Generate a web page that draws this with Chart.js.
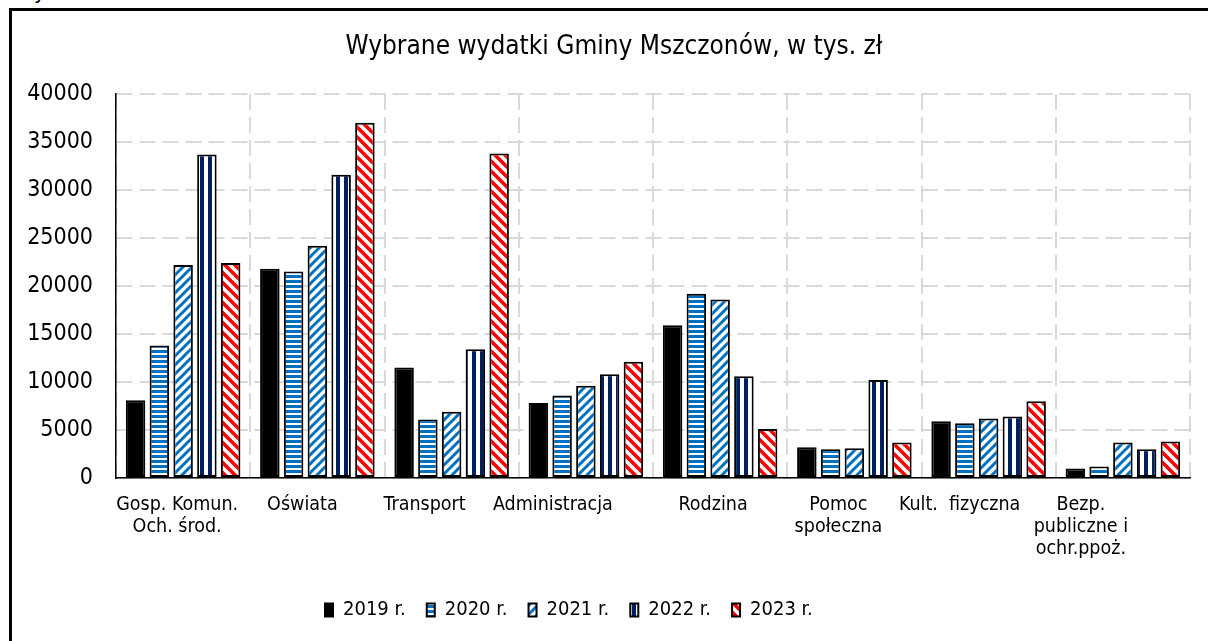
<!DOCTYPE html>
<html><head><meta charset="utf-8">
<script src="https://cdn.jsdelivr.net/npm/chart.js@4.4.1/dist/chart.umd.min.js"></script>
<style>
html,body{margin:0;padding:0;background:#fff;overflow:hidden;width:1208px;height:641px}
#frame{position:absolute;left:9px;top:8px;width:1300px;height:700px;border-left:3px solid #000;border-top:3px solid #000;box-sizing:border-box}
#cut{position:absolute;left:34px;top:-21px;font:22px 'DejaVu Sans Condensed','DejaVu Sans';color:#000;line-height:normal}
#c{position:absolute;left:0;top:0}
</style></head><body>
<div id="cut">y</div>
<div id="frame"></div>
<canvas id="c" width="1208" height="641"></canvas>
<script>
// ---- data ----
const categories = [["Gosp. Komun.", "Och. środ."], "Oświata", "Transport", "Administracja", "Rodzina", ["Pomoc", "społeczna"], "Kult.  fizyczna", ["Bezp.", "publiczne i", "ochr.ppoż."]];
const seriesNames = ["2019 r.", "2020 r.", "2021 r.", "2022 r.", "2023 r."];
const v2019 = [8100, 21800, 11500, 7800, 15900, 3200, 5900, 1000];
const v2020 = [13800, 21500, 6100, 8600, 19200, 3000, 5700, 1200];
const v2021 = [22200, 24200, 6900, 9600, 18600, 3100, 6200, 3700];
const v2022 = [33700, 31600, 13400, 10800, 10600, 10200, 6400, 3000];
const v2023 = [22400, 37000, 33800, 12100, 5100, 3700, 8000, 3800];
const yTickValues = [0, 5000, 10000, 15000, 20000, 25000, 30000, 35000, 40000];
const chartTitle = "Wybrane wydatki Gminy Mszczonów, w tys. zł";

// ---- styling ----
const FONT = "'DejaVu Sans Condensed', 'DejaVu Sans', sans-serif";
const W = 1208, H = 641;
const PLOT_LEFT = 116, PLOT_BOTTOM = 478;
const TITLE_CX = 614;
const LEGEND_X = 325, LEGEND_TEXT_CY = 610;
const labelShift = [-6, -15, -27, -33, -7, -16, -29, -42];

function makePattern(type, color) {
  const c = document.createElement('canvas');
  const x = c.getContext('2d');
  let s;
  if (type === 'h') {
    c.width = 6; c.height = 5;
    x.fillStyle = '#fff'; x.fillRect(0, 0, 6, 5);
    x.fillStyle = color; x.fillRect(0, 0, 6, 3);
  } else if (type === 'v') {
    c.width = 8; c.height = 8;
    x.fillStyle = '#fff'; x.fillRect(0, 0, 8, 8);
    x.fillStyle = color; x.fillRect(0, 0, 4, 8);
  } else if (type === 'up' || type === 'down') {
    s = type === 'up' ? 9 : 10;
    c.width = s; c.height = s;
    x.fillStyle = '#fff'; x.fillRect(0, 0, s, s);
    x.strokeStyle = color; x.lineWidth = type === 'up' ? 3 : 3.6;
    x.beginPath();
    if (type === 'up') {
      for (const o of [-s, 0, s]) { x.moveTo(o - 1, s + 1); x.lineTo(o + s + 1, -1); }
    } else {
      for (const o of [-s, 0, s]) { x.moveTo(o - 1, -1); x.lineTo(o + s + 1, s + 1); }
    }
    x.stroke();
  }
  return document.getElementById('c').getContext('2d').createPattern(c, 'repeat');
}

const fills = [
  '#000000',
  makePattern('h', '#0070C0'),
  makePattern('up', '#0070C0'),
  makePattern('v', '#002060'),
  makePattern('down', '#FF0000')
];
const seriesValues = [v2019, v2020, v2021, v2022, v2023];

const tweak = {
  id: 'tweak',
  afterUpdate(chart) {
    const lg = chart.legend;
    if (lg) {
      const pad = lg.options.labels.padding;
      const w = lg.right - lg.left, h = lg.bottom - lg.top;
      lg.left = LEGEND_X - pad; lg.right = lg.left + w;
      lg.top = LEGEND_TEXT_CY - 10 - pad; lg.bottom = lg.top + h;
    }
    const t = chart.titleBlock;
    if (t) {
      const tw = t.right - t.left;
      t.left = TITLE_CX - tw / 2; t.right = t.left + tw;
    }
  },
  beforeDraw(chart) {
    const xs = chart.scales.x;
    const items = xs.getLabelItems(chart.chartArea);
    if (!items._shifted) {
      items.forEach((it, i) => { it.options.translation[0] += labelShift[i] || 0; });
      items._shifted = true;
    }
  }
};

new Chart(document.getElementById('c'), {
  type: 'bar',
  data: {
    labels: categories,
    datasets: seriesNames.map((n, i) => ({
      label: n,
      data: seriesValues[i],
      backgroundColor: fills[i],
      borderColor: '#000',
      borderWidth: 2,
      borderSkipped: false,
      categoryPercentage: 0.885,
      barPercentage: 0.82
    }))
  },
  options: {
    responsive: false,
    animation: false,
    devicePixelRatio: 1,
    layout: { padding: { left: 0, right: W - 1190, top: 0, bottom: 0 } },
    plugins: {
      tooltip: { enabled: false },
      title: {
        display: true,
        text: chartTitle,
        color: '#000',
        font: { family: FONT, size: 26, weight: 'normal', lineHeight: 1.2 },
        padding: { top: 31.4, bottom: 31.4 }
      },
      legend: {
        display: true,
        position: 'bottom',
        align: 'start',
        labels: {
          color: '#000',
          font: { family: FONT, size: 20 },
          boxWidth: 8,
          boxHeight: 13,
          padding: 21
        }
      }
    },
    scales: {
      x: {
        grid: { display: true, color: '#d9d9d9', lineWidth: 2, drawTicks: false, offset: true },
        border: { display: true, color: '#000', width: 1.5, dash: [16, 7] },
        ticks: {
          color: '#000',
          font: { family: FONT, size: 19.5, lineHeight: 1.13 },
          padding: 16,
          maxRotation: 0,
          minRotation: 0,
          autoSkip: false
        },
        afterFit(s) {
          const lh = s.chart.legend ? s.chart.legend.height : 0;
          s.height = H - lh - PLOT_BOTTOM;
        }
      },
      y: {
        min: yTickValues[0],
        max: yTickValues[yTickValues.length - 1],
        afterBuildTicks(s) { s.ticks = yTickValues.map(v => ({ value: v })); },
        grid: { display: true, color: '#d9d9d9', lineWidth: 2, drawTicks: false },
        border: { display: true, color: '#000', width: 1.5, dash: [16, 7] },
        ticks: {
          color: '#000',
          font: { family: FONT, size: 23 },
          padding: 23,
          callback: v => String(v)
        },
        afterFit(s) { s.width = PLOT_LEFT; }
      }
    }
  },
  plugins: [tweak]
});
</script>
</body></html>
